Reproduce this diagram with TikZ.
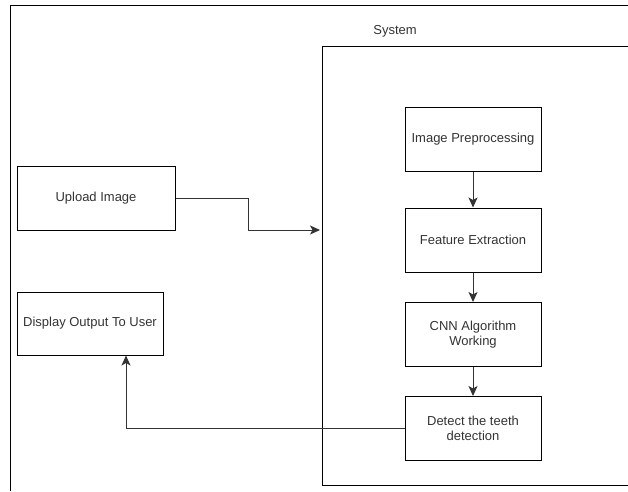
\documentclass[tikz,border=0pt]{standalone}
\usepackage{fontspec}
\setmainfont{Liberation Sans}
\usepackage{xcolor}
\usetikzlibrary{arrows.meta}

\definecolor{txtgray}{HTML}{333333}

\begin{document}
\begin{tikzpicture}[x=1pt,y=-1pt,
  blk/.style={draw=black,line width=1pt,minimum width=136pt,minimum height=64pt,
    inner sep=0pt,align=center,text=txtgray,font=\fontsize{13}{15.5}\selectfont},
  flow/.style={draw=black!80,line width=1pt,-{Stealth[length=10pt,width=9pt,inset=2.5pt]}}]
\useasboundingbox (0,0) rectangle (628,491);
% outer frame (only top and left edges show)
\draw[line width=1pt] (10,491) -- (10,5) -- (628,5);
% system boundary
\draw[line width=1pt] (628,46) -- (322,46) -- (322,485) -- (628,485);
\node[text=txtgray,font=\fontsize{13}{15.5}\selectfont] (systitle) at (395,31) {System};
\coordinate (sysin) at (320,230);
% pipeline inside the system
\node[blk] (prep) at (473,139.5) {Image Preprocessing};
\node[blk] (feat) at (473,240) {Feature Extraction};
\node[blk] (cnn) at (473,334.5) {CNN Algorithm\\Working};
\node[blk] (detect) at (473,428.5) {Detect the teeth\\detection};
% user side
\node[blk,minimum width=158pt] (upload) at (96,198) {Upload Image};
\node[blk,minimum width=146pt,minimum height=63pt] (display) at (90,323.5) {Display Output To User};
% arrows
\draw[flow] (prep) -- (feat);
\draw[flow] (feat) -- (cnn);
\draw[flow] (cnn) -- (detect);
\draw[flow] (upload.east) -- ++(73,0) |- (sysin);
\draw[flow] (detect.west) -| ([xshift=36pt]display.south);
\end{tikzpicture}
\end{document}
